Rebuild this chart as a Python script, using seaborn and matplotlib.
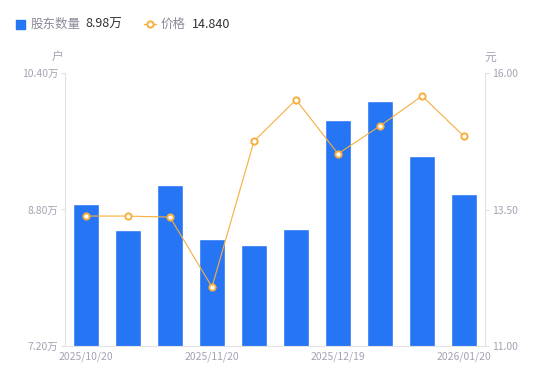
import matplotlib
matplotlib.use("Agg")
import matplotlib.pyplot as plt
import seaborn as sns
import pandas as pd
import numpy as np

dates = ["2025/10/20", "2025/10/31", "2025/11/10", "2025/11/20", "2025/11/28",
         "2025/12/10", "2025/12/19", "2025/12/31", "2026/01/09", "2026/01/20"]
holders = [8.87, 8.56, 9.09, 8.45, 8.38, 8.57, 9.85, 10.07, 9.43, 8.98]   # 万户
price = [13.38, 13.38, 13.36, 12.08, 14.75, 15.51, 14.52, 15.03, 15.58, 14.84]
shown_ticks = ["2025/10/20", "2025/11/20", "2025/12/19", "2026/01/20"]
left_ticks = [7.20, 8.80, 10.40]
right_ticks = [11.00, 13.50, 16.00]

sns.set_theme(style="white")
plt.rcParams['font.family'] = ['Noto Sans CJK SC', 'DejaVu Sans']

BLUE = "#2675F4"
ORANGE = "#F7AE3C"
GRAY = "#A3A3B3"
AXC = "#E3E3E6"

df = pd.DataFrame({"date": dates, "holders": holders, "price": price})

fig = plt.figure(figsize=(5.5, 3.81), dpi=100)
ax = fig.add_axes([65/550, 1-346/381, 420/550, 273/381])
sns.barplot(data=df, x="date", y="holders", order=dates, color=BLUE,
            width=0.6, ax=ax, saturation=1)
ax.set_ylim(7.20, 10.40)
ax.set_xlim(-0.5, len(dates)-0.5)
ax.set_yticks(left_ticks)
ax.set_yticklabels([f"{v:.2f}万" for v in left_ticks])
ax.set_xticks([dates.index(d) for d in shown_ticks])
ax.set_xticklabels(shown_ticks)
ax.set_xlabel("")
ax.set_ylabel("")
ax.tick_params(axis="y", colors=GRAY, labelsize=7.5, length=3, width=0.8, pad=2, color=AXC)
ax.tick_params(axis="x", colors=GRAY, labelsize=7.5, length=0, pad=4)
for s in ["top", "right"]:
    ax.spines[s].set_visible(False)
for s in ["left", "bottom"]:
    ax.spines[s].set_color(AXC)
    ax.spines[s].set_linewidth(0.8)

ax2 = ax.twinx()
df["pos"] = np.arange(len(dates))
sns.lineplot(data=df, x="pos", y="price", ax=ax2, color=ORANGE, linewidth=0.8,
             marker="o", markersize=4.5, markerfacecolor="white",
             markeredgecolor=ORANGE, markeredgewidth=1.4)
ax2.set_ylim(11.0, 16.0)
ax2.set_yticks(right_ticks)
ax2.set_yticklabels([f"{v:.2f}" for v in right_ticks])
ax2.set_ylabel("")
ax2.set_xlabel("")
ax2.set_xlim(-0.5, len(dates)-0.5)
ax2.tick_params(axis="y", colors=GRAY, labelsize=7.5, length=3, width=0.8, pad=2, color=AXC)
for s in ["top", "left", "bottom"]:
    ax2.spines[s].set_visible(False)
ax2.spines["right"].set_color(AXC)
ax2.spines["right"].set_linewidth(0.8)

# unit labels
fig.text(58/550, 1-57/381, "户", color=GRAY, fontsize=8.5, ha="center", va="center")
fig.text(490/550, 1-57/381, "元", color=GRAY, fontsize=8.5, ha="center", va="center")

# legend (custom, at top)
ly = 1-24/381
fig.patches.append(matplotlib.patches.Rectangle((16/550, ly-4.5/381), 9/550, 9/381,
                   transform=fig.transFigure, color=BLUE, figure=fig))
fig.text(31/550, ly, "股东数量", color="#8A8A99", fontsize=9, va="center", ha="left")
fig.text(85/550, ly, "8.98万", color="#333333", fontsize=9, va="center", ha="left")
fig.lines.append(matplotlib.lines.Line2D([144/550, 156/550], [ly, ly], transform=fig.transFigure,
                 color=ORANGE, linewidth=1))
fig.lines.append(matplotlib.lines.Line2D([150/550], [ly], transform=fig.transFigure,
                 color=ORANGE, marker="o", markersize=4.5, markerfacecolor="white",
                 markeredgecolor=ORANGE, markeredgewidth=1.4, linestyle="none"))
fig.text(161/550, ly, "价格", color="#8A8A99", fontsize=9, va="center", ha="left")
fig.text(192/550, ly, "14.840", color="#333333", fontsize=9, va="center", ha="left")

fig.savefig("out.png", dpi=100)
